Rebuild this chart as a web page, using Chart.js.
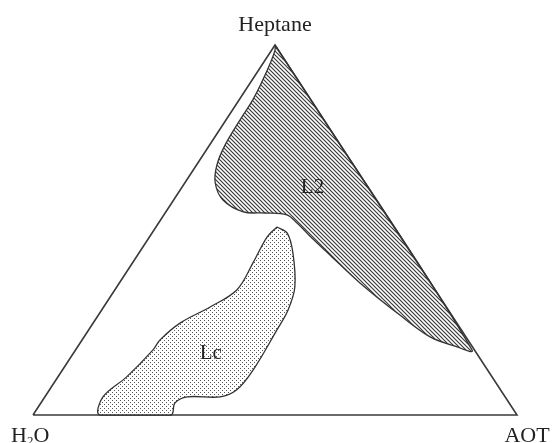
<!DOCTYPE html>
<html>
<head>
<meta charset="utf-8">
<script src="https://cdn.jsdelivr.net/npm/chart.js@4"></script>
<style>
  html, body { margin: 0; padding: 0; background: #fff; }
  #box { width: 552px; height: 443px; }
</style>
</head>
<body>
<div id="box"><canvas id="grafico"></canvas></div>
<script>
// compositions in %: heptane and AOT (water = rest)
const vertices = ["H\u2082O", "AOT", "Heptane"];
const triHeptane = [0, 0, 100, 0];
const triAOT = [0, 100, 0, 0];

const l2Heptane = [100, 82, 17.6, 18.6, 21.1, 27.0, 35.7, 43.2, 48.4, 51.9, 54.1, 54.6, 54.9, 58.1, 62.7, 67.6, 73.0, 79.7, 85.5, 93.8, 98.6, 100];
const l2AOT =     [0,   18, 81.9, 77.9, 71.5, 62.3, 49.7, 39.8, 33.0, 28.6, 25.4, 20.6, 16.0, 10.2, 6.3,  4.2,  3.2,  2.9,  2.8,  1.7,  0.7,  0];

const lcHeptane = [50.8, 49.2, 43.8, 34.6, 28.4, 23.0, 12.2, 6.8, 4.9, 4.9, 3.2, 0, 0, 4.9, 10.3, 17.6, 20.3, 24.9, 29.2, 33.8, 41.1, 48.1, 50.8];
const lcAOT =     [25.0, 27.9, 31.8, 36.8, 38.5, 38.9, 39.4, 38.7, 36.2, 29.4, 27.7, 28.5, 13.8, 12.0, 14.2, 16.0, 16.1, 18.0, 22.0, 25.2, 24.9, 24.3, 25.0];

const regionLabels = ["L2", "Lc"];
const labelHeptane = [61.5, 16.5];
const labelAOT = [27.0, 28.5];

// ternary -> plane (x along H2O-AOT base, y = heptane)
function punto(h, a) {
    return { x: a + h / 2, y: h };
}
function puntos(hs, as) {
    return hs.map((h, i) => punto(h, as[i]));
}

function rayado() {
    const s = 4;
    const c = document.createElement("canvas");
    c.width = s; c.height = s;
    const ctx = c.getContext("2d");
    ctx.strokeStyle = "#3a3a3a";
    ctx.lineWidth = 1.2;
    ctx.beginPath();
    ctx.moveTo(-1, -1); ctx.lineTo(s + 1, s + 1);
    ctx.moveTo(-1, s - 1); ctx.lineTo(1, s + 1);
    ctx.moveTo(s - 1, -1); ctx.lineTo(s + 1, 1);
    ctx.stroke();
    return ctx.createPattern(c, "repeat");
}

function punteado() {
    const c = document.createElement("canvas");
    c.width = 4; c.height = 4;
    const ctx = c.getContext("2d");
    ctx.fillStyle = "#fff";
    ctx.fillRect(0, 0, 4, 4);
    ctx.fillStyle = "#555";
    ctx.fillRect(0, 0, 1, 1);
    ctx.fillRect(2, 2, 1, 1);
    return ctx.createPattern(c, "repeat");
}

const fuente = "'Liberation Serif', serif";

const etiquetas = {
    id: "etiquetas",
    afterDraw(chart) {
        const ctx = chart.ctx;
        const x = chart.scales.x, y = chart.scales.y;
        ctx.save();
        ctx.fillStyle = "#222";
        ctx.font = "22px " + fuente;
        ctx.textAlign = "center";
        ctx.textBaseline = "alphabetic";
        const apex = punto(100, 0);
        ctx.fillText(vertices[2], x.getPixelForValue(apex.x), y.getPixelForValue(apex.y) - 14);
        const der = punto(0, 100);
        ctx.fillText(vertices[1], x.getPixelForValue(der.x) + 10, y.getPixelForValue(der.y) + 27);
        // H2O with subscript
        const izq = punto(0, 0);
        let px = x.getPixelForValue(izq.x) - 22, py = y.getPixelForValue(izq.y) + 27;
        ctx.textAlign = "left";
        ctx.fillText("H", px, py);
        px += ctx.measureText("H").width;
        ctx.font = "13px " + fuente;
        ctx.fillText("2", px, py + 3);
        px += ctx.measureText("2").width;
        ctx.font = "22px " + fuente;
        ctx.fillText("O", px, py);
        ctx.textAlign = "center";
        ctx.textBaseline = "middle";
        ctx.font = "21px " + fuente;
        regionLabels.forEach((t, i) => {
            const p = punto(labelHeptane[i], labelAOT[i]);
            ctx.fillText(t, x.getPixelForValue(p.x), y.getPixelForValue(p.y));
        });
        ctx.restore();
    }
};

new Chart(document.getElementById("grafico"), {
    type: "scatter",
    data: {
        datasets: [
            {
                label: "L2",
                data: puntos(l2Heptane, l2AOT),
                showLine: true,
                fill: "shape",
                backgroundColor: rayado(),
                borderColor: "#333",
                borderWidth: 1.3,
                tension: 0.35,
                pointRadius: 0,
                clip: false
            },
            {
                label: "Lc",
                data: puntos(lcHeptane, lcAOT),
                showLine: true,
                fill: "shape",
                backgroundColor: punteado(),
                borderColor: "#333",
                borderWidth: 1.3,
                tension: 0.35,
                pointRadius: 0,
                clip: false
            },
            {
                label: "triangle",
                data: puntos(triHeptane, triAOT),
                showLine: true,
                fill: false,
                borderColor: "#3a3a3a",
                borderWidth: 1.6,
                tension: 0,
                pointRadius: 0,
                clip: false
            }
        ]
    },
    options: {
        responsive: true,
        maintainAspectRatio: false,
        animation: false,
        layout: { padding: { left: 33, right: 35, top: 45, bottom: 28 } },
        plugins: { legend: { display: false }, tooltip: { enabled: false } },
        scales: {
            x: { type: "linear", min: 0, max: 100, display: false },
            y: { type: "linear", min: 0, max: 100, display: false }
        }
    },
    plugins: [etiquetas]
});
</script>
</body>
</html>
